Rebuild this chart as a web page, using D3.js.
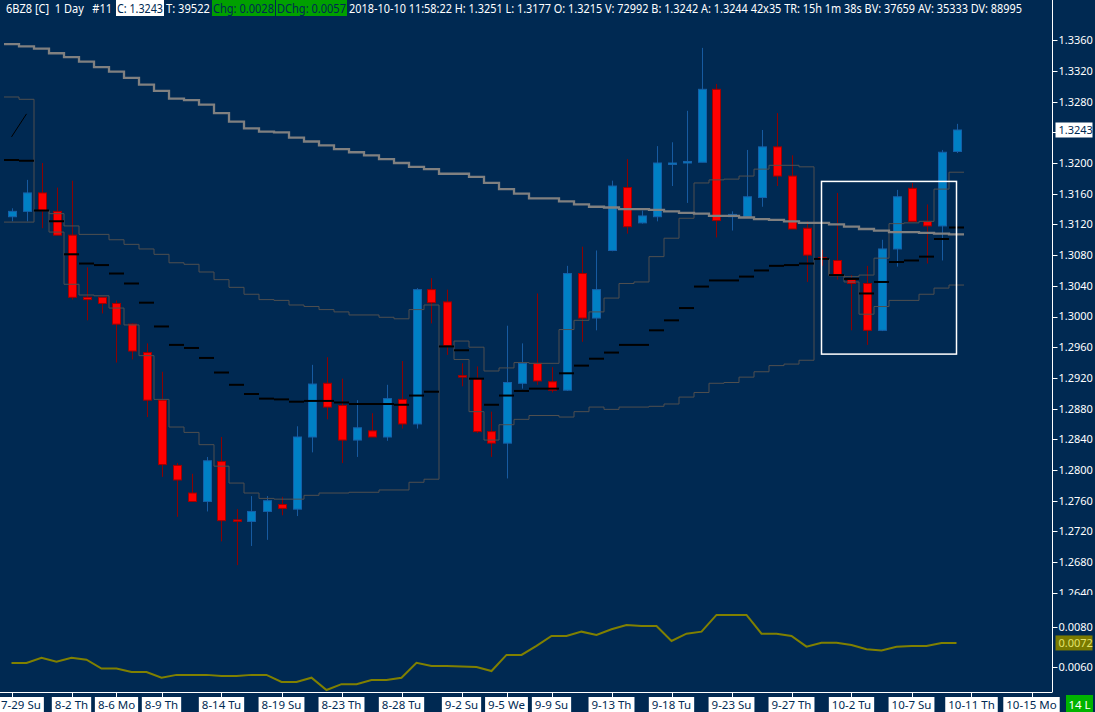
<!DOCTYPE html>
<html>
<head>
<meta charset="utf-8">
<script src="https://cdn.jsdelivr.net/npm/d3@7"></script>
<style>
html, body { margin:0; padding:0; background:#002952; overflow:hidden; }
svg { display:block; }
text { font-family:"Noto Sans","DejaVu Sans",sans-serif; }
</style>
</head>
<body>
<script>
// daily bars, 6BZ8, 7-29 .. 10-10
var open = [1.3130,1.3137,1.3161,1.3137,1.3106,1.3025,1.3025,1.3017,1.2990,1.2953,
	1.2891,1.2806,1.2770,1.2759,1.2811,1.2735,1.2733,1.2746,1.2755,1.2749,
	1.2843,1.2913,1.2884,1.2839,1.2851,1.2843,1.2892,1.2860,1.3035,1.3019,
	1.2923,1.2919,1.2850,1.2835,1.2913,1.2939,1.2915,1.2904,1.3056,1.2998,
	1.3086,1.3168,1.3122,1.3130,1.3199,1.3200,1.3201,1.3296,1.3130,1.3130,
	1.3155,1.3221,1.3183,1.3115,1.3077,1.3073,1.3048,1.3043,1.2982,1.3088,
	1.3167,1.3124,1.3118,1.3215];
var high = [1.3141,1.3178,1.3200,1.3168,1.3177,1.3064,1.3025,1.3021,1.2991,1.2965,
	1.2928,1.2809,1.2795,1.2817,1.2843,1.2749,1.2766,1.2766,1.2765,1.2857,
	1.2937,1.2947,1.2919,1.2891,1.2874,1.2911,1.2942,1.3037,1.3050,1.3035,
	1.2939,1.2935,1.2876,1.2988,1.2965,1.3030,1.2934,1.3066,1.3091,1.3086,
	1.3177,1.3205,1.3138,1.3222,1.3227,1.3268,1.3350,1.3303,1.3137,1.3217,
	1.3243,1.3265,1.3210,1.3124,1.3087,1.3161,1.3054,1.3066,1.3100,1.3165,
	1.3174,1.3146,1.3217,1.3251];
var low = [1.3124,1.3124,1.3115,1.3106,1.3022,1.2995,1.3004,1.2940,1.2944,1.2869,
	1.2791,1.2739,1.2759,1.2746,1.2707,1.2676,1.2701,1.2709,1.2741,1.2740,
	1.2823,1.2866,1.2809,1.2817,1.2843,1.2838,1.2854,1.2854,1.2991,1.2950,
	1.2909,1.2848,1.2817,1.2789,1.2906,1.2911,1.2901,1.2903,1.2967,1.2982,
	1.3085,1.3108,1.3121,1.3124,1.3170,1.3148,1.3201,1.3103,1.3112,1.3129,
	1.3143,1.3170,1.3114,1.3045,1.3066,1.3048,1.2982,1.2963,1.2981,1.3065,
	1.3124,1.3069,1.3073,1.3213];
var close = [1.3137,1.3161,1.3138,1.3106,1.3025,1.3022,1.3017,1.2990,1.2955,1.2891,
	1.2807,1.2787,1.2759,1.2812,1.2734,1.2733,1.2746,1.2760,1.2750,1.2843,
	1.2912,1.2882,1.2839,1.2855,1.2843,1.2893,1.2860,1.3035,1.3018,1.2962,
	1.2921,1.2850,1.2835,1.2914,1.2939,1.2916,1.2904,1.3056,1.2998,1.3035,
	1.3170,1.3117,1.3131,1.3200,1.3200,1.3202,1.3296,1.3125,1.3133,1.3156,
	1.3221,1.3183,1.3114,1.3080,1.3075,1.3054,1.3043,1.2982,1.3088,1.3156,
	1.3124,1.3118,1.3214,1.3243];

// long moving average (light gray steps)
var ma = [1.3355,1.3352,1.3349,1.3343,1.3338,1.3332,1.3325,1.3319,1.3311,1.3302,
	1.3294,1.3284,1.3282,1.3276,1.3265,1.3254,1.3245,1.3241,1.3240,1.3233,
	1.3228,1.3223,1.3218,1.3214,1.3210,1.3205,1.3200,1.3195,1.3192,1.3186,
	1.3186,1.3182,1.3174,1.3166,1.3160,1.3154,1.3154,1.3150,1.3146,1.3143,
	1.3142,1.3140,1.3140,1.3139,1.3137,1.3135,1.3134,1.3131,1.3131,1.3129,
	1.3127,1.3126,1.3124,1.3122,1.3122,1.3120,1.3117,1.3114,1.3112,1.3110,
	1.3110,1.3109,1.3108,1.3107];
// vwap (black dashes) and its bands (dark gray steps)
var vwap = [1.3204,1.3203,1.3138,1.3124,1.3081,1.3069,1.3067,1.3056,1.3043,1.3018,
	1.2987,1.2963,1.2959,1.2946,1.2927,1.2911,1.2899,1.2893,1.2892,1.2889,
	1.2890,1.2890,1.2888,1.2886,1.2886,1.2886,1.2885,1.2897,1.2902,1.2961,
	1.2956,1.2919,1.2885,1.2897,1.2903,1.2906,1.2906,1.2926,1.2936,1.2945,
	1.2953,1.2963,1.2963,1.2982,1.2995,1.3011,1.3039,1.3047,1.3047,1.3052,
	1.3060,1.3066,1.3067,1.3069,1.3075,1.3054,1.3049,1.3030,1.3045,1.3071,
	1.3073,1.3078,1.3101,1.3116];
var upper = [1.3286,1.3283,1.3138,1.3134,1.3118,1.3107,1.3107,1.3100,1.3094,1.3088,
	1.3081,1.3070,1.3068,1.3058,1.3048,1.3038,1.3029,1.3022,1.3021,1.3015,
	1.3013,1.3009,1.3006,1.3002,1.3002,1.2999,1.2997,1.3009,1.3015,1.2961,
	1.2968,1.2960,1.2929,1.2933,1.2940,1.2939,1.2939,1.2983,1.2995,1.3006,
	1.3024,1.3043,1.3045,1.3078,1.3102,1.3128,1.3174,1.3178,1.3179,1.3183,
	1.3192,1.3197,1.3197,1.3195,1.3075,1.3054,1.3052,1.3054,1.3076,1.3121,
	1.3122,1.3124,1.3166,1.3188];
var lower = [1.3123,1.3123,1.3138,1.3110,1.3042,1.3028,1.3027,1.3011,1.2989,1.2949,
	1.2892,1.2856,1.2849,1.2833,1.2805,1.2783,1.2770,1.2763,1.2762,1.2762,
	1.2767,1.2770,1.2770,1.2771,1.2771,1.2774,1.2774,1.2784,1.2788,1.2961,
	1.2944,1.2876,1.2839,1.2859,1.2866,1.2871,1.2871,1.2869,1.2876,1.2882,
	1.2879,1.2882,1.2882,1.2883,1.2886,1.2895,1.2901,1.2913,1.2914,1.2921,
	1.2928,1.2936,1.2938,1.2943,1.3075,1.3053,1.3045,1.3003,1.3013,1.3021,
	1.3021,1.3029,1.3037,1.3041];
// lower pane study
var ind = [0.00621,0.00621,0.00647,0.00627,0.00647,0.00637,0.00593,0.00593,0.00576,0.00576,
	0.00548,0.00562,0.00562,0.00562,0.00557,0.00557,0.00562,0.00562,0.00527,0.00527,
	0.00548,0.00487,0.00516,0.00516,0.00537,0.00537,0.00548,0.00622,0.00606,0.00606,
	0.00604,0.00601,0.00581,0.00661,0.00661,0.00706,0.00755,0.00755,0.00776,0.00760,
	0.00788,0.00809,0.00804,0.00804,0.00730,0.00766,0.00776,0.00859,0.00859,0.00859,
	0.00766,0.00766,0.00755,0.00702,0.00721,0.00721,0.00710,0.00689,0.00683,0.00701,
	0.00705,0.00705,0.00720,0.00720];

var tickIdx = [0,4,7,10,14,18,22,26,30,33,36,40,44,48,52,56,60,64,68];
var tickLabels = ["7-29 Su","8-2 Th","8-6 Mo","8-9 Th","8-14 Tu","8-19 Su","8-23 Th","8-28 Tu","9-2 Su",
	"9-5 We","9-9 Su","9-13 Th","9-18 Tu","9-23 Su","9-27 Th","10-2 Tu","10-7 Su","10-11 Th","10-15 Mo"];
var priceTicks = d3.range(0, 19).map(function(k){ return 1.2640 + k * 0.004; });
var indTicks = [0.0060, 0.0080];
var lastInd = 0.0072;
// drawings
var trend = [[0, 1.3234], [1, 1.3264]];
var boxIdx = [54, 63], boxPrice = [1.3176, 1.2951];

var width = 1095, height = 712;
var bg = "#002952", axisR = 1052.5, half = 7.5;

var svg = d3.select("body").append("svg").attr("width", width).attr("height", height);
svg.append("rect").attr("width", width).attr("height", height).attr("fill", bg);

var x = d3.scaleLinear().domain([0, 68]).range([11.5, 1031.5]);
var y = d3.scaleLinear().domain([1.2640, 1.3360]).range([592.8, 40.2]);
var yi = d3.scaleLinear().domain([0.0060, 0.0080]).range([667.2, 626.8]);

var defs = svg.append("defs");
defs.append("clipPath").attr("id", "pclip").append("rect")
	.attr("x", 0).attr("y", 17).attr("width", axisR).attr("height", 579);
defs.append("clipPath").attr("id", "aclip").append("rect")
	.attr("x", axisR).attr("y", 17).attr("width", 50).attr("height", 578);

var plot = svg.append("g").attr("clip-path", "url(#pclip)");

// candles
var bars = d3.range(open.length);
plot.selectAll("line.wick").data(bars).enter().append("line")
	.attr("class", "wick")
	.attr("x1", function(i){ return Math.round(x(i)) + 0.5; })
	.attr("x2", function(i){ return Math.round(x(i)) + 0.5; })
	.attr("y1", function(i){ return y(high[i]); })
	.attr("y2", function(i){ return y(low[i]); })
	.attr("stroke", function(i){ return close[i] >= open[i] ? "#175aa0" : "#8c0000"; })
	.attr("stroke-width", 1);
plot.selectAll("rect.body").data(bars).enter().append("rect")
	.attr("class", "body")
	.attr("x", function(i){ return Math.round(x(i)) - 3.5; })
	.attr("width", 8)
	.attr("y", function(i){ return Math.min(y(open[i]), y(close[i])); })
	.attr("height", function(i){ return Math.max(1.5, Math.abs(y(open[i]) - y(close[i]))); })
	.attr("fill", function(i){ return close[i] >= open[i] ? "#0080c4" : "#ff0000"; })
	.attr("stroke", function(i){ return close[i] >= open[i] ? "#1560a8" : "#a00000"; })
	.attr("stroke-width", 1);

// stepped studies
function steps(vals){
	var pts = [];
	vals.forEach(function(v, i){ pts.push([x(i) - half, v]); pts.push([x(i) + half, v]); });
	return pts;
}
var stepLine = d3.line().x(function(d){ return d[0]; }).y(function(d){ return y(d[1]); });

plot.append("path").attr("d", stepLine(steps(upper)))
	.attr("fill", "none").attr("stroke", "#4f4f4f").attr("stroke-width", 1);
plot.append("path").attr("d", stepLine(steps(lower)))
	.attr("fill", "none").attr("stroke", "#4f4f4f").attr("stroke-width", 1);
plot.append("path").attr("d", stepLine(steps(ma)))
	.attr("fill", "none").attr("stroke", "#808080").attr("stroke-width", 2.3);

plot.selectAll("line.vw").data(bars).enter().append("line")
	.attr("class", "vw")
	.attr("x1", function(i){ return x(i) - half; })
	.attr("x2", function(i){ return x(i) + half; })
	.attr("y1", function(i){ return y(vwap[i]); })
	.attr("y2", function(i){ return y(vwap[i]); })
	.attr("stroke", "#000").attr("stroke-width", 2);

plot.append("line")
	.attr("x1", x(trend[0][0])).attr("y1", y(trend[0][1]))
	.attr("x2", x(trend[1][0])).attr("y2", y(trend[1][1]))
	.attr("stroke", "#000").attr("stroke-width", 1);

plot.append("rect")
	.attr("x", x(boxIdx[0])).attr("y", y(boxPrice[0]))
	.attr("width", x(boxIdx[1]) - x(boxIdx[0]))
	.attr("height", y(boxPrice[1]) - y(boxPrice[0]))
	.attr("fill", "none").attr("stroke", "#fff").attr("stroke-width", 1.5);

// lower pane line
var indLine = d3.line().x(function(d, i){ return x(i); }).y(function(d){ return yi(d); });
svg.append("path").attr("d", indLine(ind))
	.attr("fill", "none").attr("stroke", "#808000").attr("stroke-width", 2);

// right scale
var lastC = close[close.length - 1];
svg.append("line").attr("x1", axisR).attr("x2", axisR).attr("y1", 0).attr("y2", 692)
	.attr("stroke", "#fff").attr("stroke-width", 1);
var ax = svg.append("g").attr("clip-path", "url(#aclip)");
ax.selectAll("line.pt").data(priceTicks).enter().append("line")
	.attr("x1", axisR).attr("x2", axisR + 5)
	.attr("y1", function(d){ return Math.round(y(d)) + 0.5; })
	.attr("y2", function(d){ return Math.round(y(d)) + 0.5; })
	.attr("stroke", "#fff");
// the last-price marker hides the scale label it sits on
ax.selectAll("text.pt").data(priceTicks.filter(function(d){ return Math.abs(y(d) - y(lastC)) > 12; }))
	.enter().append("text")
	.attr("x", axisR + 6).attr("y", function(d){ return y(d); }).attr("dy", "0.36em")
	.attr("fill", "#fff").attr("font-size", "11px")
	.text(function(d){ return d3.format(".4f")(d); });

svg.append("rect").attr("x", axisR + 3).attr("y", y(lastC) - 7.5).attr("width", 37).attr("height", 15).attr("fill", "#fff");
svg.append("text").attr("x", axisR + 6).attr("y", y(lastC)).attr("dy", "0.36em")
	.attr("fill", bg).attr("font-size", "11px").text(d3.format(".4f")(lastC));

svg.selectAll("line.it").data(indTicks).enter().append("line")
	.attr("x1", axisR).attr("x2", axisR + 5)
	.attr("y1", function(d){ return Math.round(yi(d)) + 0.5; })
	.attr("y2", function(d){ return Math.round(yi(d)) + 0.5; })
	.attr("stroke", "#fff");
svg.selectAll("text.it").data(indTicks).enter().append("text")
	.attr("x", axisR + 6).attr("y", function(d){ return yi(d); }).attr("dy", "0.36em")
	.attr("fill", "#fff").attr("font-size", "11px")
	.text(function(d){ return d3.format(".4f")(d); });
svg.append("rect").attr("x", axisR + 3).attr("y", yi(lastInd) - 7.5).attr("width", 37).attr("height", 15).attr("fill", "#7a7a00");
svg.append("text").attr("x", axisR + 6).attr("y", yi(lastInd)).attr("dy", "0.36em")
	.attr("fill", "#e4e46a").attr("font-size", "11px").text(d3.format(".4f")(lastInd));

// time scale
svg.append("line").attr("x1", 0).attr("x2", axisR).attr("y1", 692.5).attr("y2", 692.5)
	.attr("stroke", "#fff").attr("stroke-width", 1);
svg.selectAll("line.tt").data(tickIdx).enter().append("line")
	.attr("x1", function(d){ return Math.round(x(d)) + 0.5; })
	.attr("x2", function(d){ return Math.round(x(d)) + 0.5; })
	.attr("y1", 692).attr("y2", 697).attr("stroke", "#fff");
var tl = svg.selectAll("g.tl").data(tickIdx).enter().append("g").attr("class", "tl");
tl.each(function(d, k){
	var g = d3.select(this);
	var r = g.append("rect").attr("fill", "#fff").attr("y", 697).attr("height", 15);
	var t = g.append("text").attr("y", 709).attr("fill", bg).attr("font-size", "11.5px")
		.attr("text-anchor", "middle").text(tickLabels[k]);
	var w = t.node().getComputedTextLength() + 6;
	var cx = x(d);
	if (cx - w / 2 < 0) cx = w / 2 - 2;
	t.attr("x", cx);
	r.attr("x", cx - w / 2).attr("width", w);
});
svg.append("rect").attr("x", 1066).attr("y", 695).attr("width", 27).attr("height", 17).attr("fill", "#00b400");
svg.append("text").attr("x", 1079.5).attr("y", 708.5).attr("text-anchor", "middle")
	.attr("fill", "#fff").attr("font-size", "11.5px").text("14 L");

// header line
var head = [
	{t: "6BZ8 [C]  1 Day   #11", x0: 6, x1: 112, bg: null},
	{t: "C: 1.3243", x0: 116, x1: 164, bg: "#fff"},
	{t: "T: 39522", x0: 166, x1: 210, bg: null},
	{t: "Chg: 0.0028", x0: 212, x1: 275, bg: "#00a000"},
	{t: "DChg: 0.0057", x0: 276, x1: 347, bg: "#00a000"},
	{t: "2018-10-10 11:58:22 H: 1.3251 L: 1.3177 O: 1.3215 V: 72992 B: 1.3242 A: 1.3244 42x35 TR: 15h 1m 38s BV: 37659 AV: 35333 DV: 88995", x0: 349, x1: 1022, bg: null}
];
head.forEach(function(h){
	if (h.bg) svg.append("rect").attr("x", h.x0).attr("y", 0).attr("width", h.x1 - h.x0).attr("height", 16).attr("fill", h.bg);
	svg.append("text").attr("x", h.bg ? h.x0 + 1 : h.x0).attr("y", 12.5)
		.attr("font-size", "12px").style("white-space", "pre")
		.attr("textLength", h.x1 - h.x0 - (h.bg ? 2 : 0)).attr("lengthAdjust", "spacingAndGlyphs")
		.attr("fill", h.bg ? bg : "#fff").text(h.t);
});
</script>
</body>
</html>
